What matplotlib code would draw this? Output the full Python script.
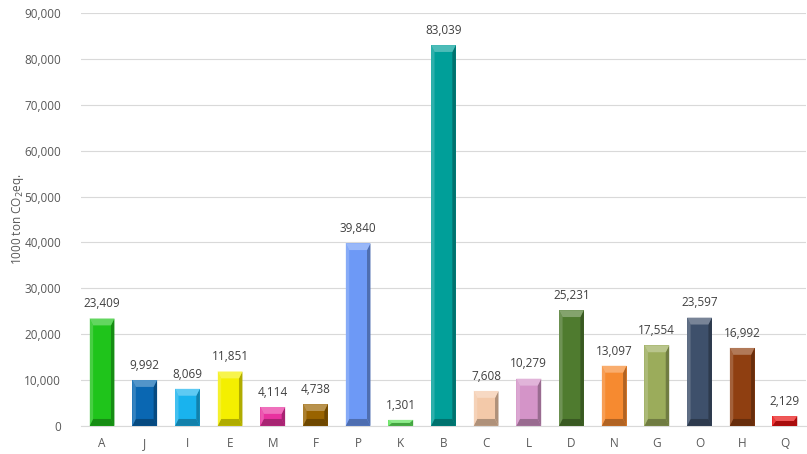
import matplotlib.pyplot as plt
import matplotlib.colors as mcolors
from matplotlib.patches import Polygon
from matplotlib.ticker import FuncFormatter, MultipleLocator

categories = ['A', 'J', 'I', 'E', 'M', 'F', 'P', 'K', 'B', 'C', 'L', 'D', 'N', 'G', 'O', 'H', 'Q']
values = [23409, 9992, 8069, 11851, 4114, 4738, 39840, 1301, 83039, 7608, 10279, 25231,
          13097, 17554, 23597, 16992, 2129]
colors = ['#1fc41b', '#0a67b2', '#19b3ee', '#f4ef00', '#e8329f', '#996300', '#6d99f6',
          '#5fe35a', '#009f99', '#f3c9a9', '#d494c8', '#4f7b2f', '#f68a30', '#9bac5b',
          '#3e506b', '#8f3f11', '#e81111']

plt.rcParams['font.family'] = ['Open Sans', 'DejaVu Sans']

fig = plt.figure(figsize=(8.07, 4.54), dpi=100)
ax = fig.add_axes([0.100, 0.062, 0.899, 0.909])

x = list(range(len(categories)))
bars = ax.bar(x, values, width=0.58, color=colors, zorder=3)

# simple bevel: darker sides, lighter top
for b, c in zip(bars, colors):
    x0, y0 = b.get_x(), b.get_y()
    w, h = b.get_width(), b.get_height()
    dx = w * 0.14
    dy = min(h * 0.5, 1500)
    rgb = mcolors.to_rgb(c)
    dark = tuple(v * 0.72 for v in rgb)
    light = tuple(v + (1 - v) * 0.3 for v in rgb)
    ax.add_patch(Polygon([(x0 + w, y0), (x0 + w, y0 + h), (x0 + w - dx, y0 + h - dy),
                          (x0 + w - dx, y0 + dy)], closed=True, color=dark, lw=0, zorder=4))
    ax.add_patch(Polygon([(x0, y0), (x0 + w, y0), (x0 + w - dx, y0 + dy), (x0 + dx, y0 + dy)],
                         closed=True, color=dark, lw=0, zorder=4))
    ax.add_patch(Polygon([(x0, y0 + h), (x0 + w, y0 + h), (x0 + w - dx, y0 + h - dy),
                          (x0 + dx, y0 + h - dy)], closed=True, color=light, lw=0, zorder=4))
    ax.add_patch(Polygon([(x0, y0), (x0, y0 + h), (x0 + dx, y0 + h - dy), (x0 + dx, y0 + dy)],
                         closed=True, color=light, lw=0, alpha=0.6, zorder=4))

for xi, v in zip(x, values):
    ax.text(xi, v + 1800, f'{v:,}', ha='center', va='bottom', fontsize=8.5, color='#404040')

ax.set_xlim(-0.5, len(categories) - 0.5)
ax.set_ylim(0, 90000)
ax.yaxis.set_major_locator(MultipleLocator(10000))
ax.yaxis.set_major_formatter(FuncFormatter(lambda v, p: f'{int(v):,}'))
ax.set_xticks(x)
ax.set_xticklabels(categories)
ax.tick_params(axis='both', length=0, labelsize=8.5, colors='#595959')
ax.tick_params(axis='y', pad=14)
ax.tick_params(axis='x', pad=8)
ax.grid(axis='y', color='#d9d9d9', lw=0.8, zorder=0)
for s in ['top', 'right', 'left']:
    ax.spines[s].set_visible(False)
ax.spines['bottom'].set_color('#d9d9d9')
ax.set_ylabel('1000 ton CO$_2$eq.', fontsize=8.5, color='#595959', labelpad=-1)

fig.savefig('out.png', dpi=100)
